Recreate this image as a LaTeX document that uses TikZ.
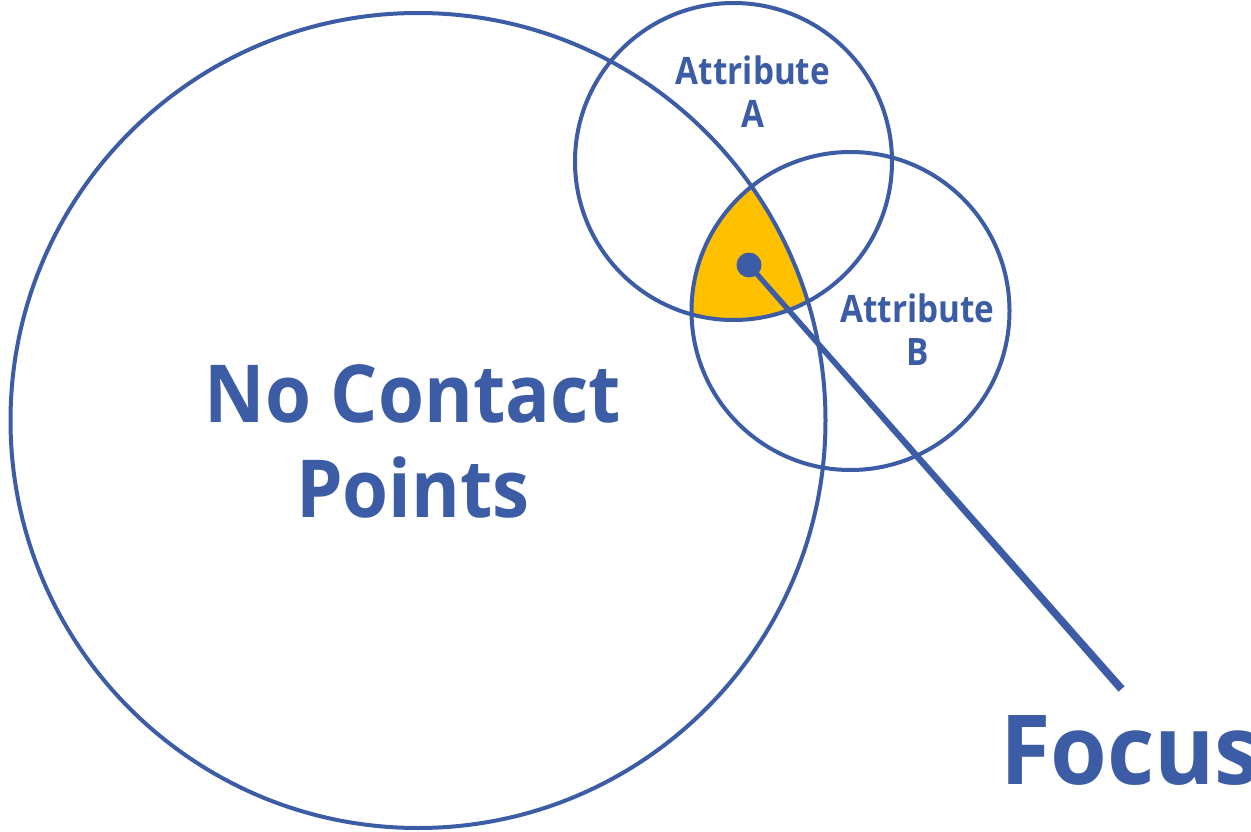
\documentclass[tikz,border=0pt]{standalone}
\usepackage{fontspec}
\setmainfont{Open Sans}
\newfontfamily\attrfont{Open Sans}[FakeStretch=0.88]
\newfontfamily\bigfont{Open Sans}[FakeStretch=0.93]
\newfontfamily\focusfont{Open Sans}[FakeStretch=0.95]
\usetikzlibrary{calc}
\definecolor{ink}{RGB}{60,92,166}
\definecolor{gold}{RGB}{255,192,0}
\begin{document}
\begin{tikzpicture}[x=1pt,y=-1pt,
  ring/.style={draw=ink,line width=4pt},
  lbl/.style={text=ink,align=center,inner sep=0pt}]
\fill[white] (0,0) rectangle (1251,832);
\useasboundingbox (0,0) rectangle (1251,832);
\coordinate (cN) at (418,420.5);
\coordinate (cA) at (733.5,161.5);
\coordinate (cB) at (850.5,311);
\begin{scope}
  \clip (cN) circle (407.5pt);
  \clip (cA) circle (158.5pt);
  \fill[gold] (cB) circle (159pt);
\end{scope}
\draw[ring] (cN) circle (407.5pt);
\draw[ring] (cA) circle (158.5pt);
\draw[ring] (cB) circle (159pt);
\node[circle,fill=ink,minimum size=25pt,inner sep=0pt] (dot) at (749,265) {};
\coordinate (tip) at (1121.5,689);
\fill[ink] ($(dot.center)!2.5pt!90:(tip)$) -- ($(tip)!4pt!-90:(dot.center)$)
  -- ($(tip)!4pt!90:(dot.center)$) -- ($(dot.center)!2.5pt!-90:(tip)$) -- cycle;
\node[lbl,font=\attrfont\bfseries\fontsize{37.8}{43}\selectfont,anchor=base] (ta) at (753,128) {Attribute\\A};
\node[lbl,font=\attrfont\bfseries\fontsize{37.8}{43}\selectfont,anchor=base] (tb) at (917.5,365) {Attribute\\B};
\node[lbl,font=\bigfont\bfseries\fontsize{80}{95}\selectfont,anchor=base] (tn) at (413,517) {No Contact\\Points};
\node[lbl,font=\focusfont\bfseries\fontsize{96.6}{100}\selectfont,anchor=base west] (tf) at (1000,784) {Focus};
\end{tikzpicture}
\end{document}
